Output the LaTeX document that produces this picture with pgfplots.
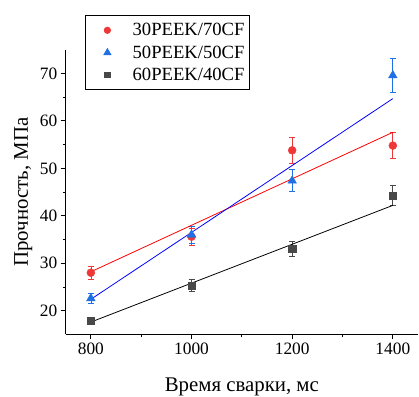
\documentclass[border=0pt]{standalone}
\usepackage{fontspec}
\setmainfont{Liberation Serif}
\usepackage{pgfplots}
\pgfplotsset{compat=1.18}
\definecolor{mred}{RGB}{238,55,55}
\definecolor{mblue}{RGB}{30,112,228}
\definecolor{mgray}{RGB}{72,72,72}
\begin{document}
\begin{tikzpicture}
\begin{axis}[
  scale only axis,
  width=354bp, height=286bp,
  xmin=750, xmax=1450, ymin=15, ymax=75,
  axis lines=left,
  axis line style={-, line width=0.9pt},
  tick style={line width=0.9pt, black},
  tick align=outside,
  major tick length=5bp, minor tick length=3bp,
  xtick={800,1000,1200,1400}, ytick={20,30,40,50,60,70},
  minor x tick num=1, minor y tick num=1,
  /pgf/number format/assume math mode=true,
  /pgf/number format/1000 sep={},
  ticklabel style={font=\fontsize{17.5}{20}\selectfont},
  xlabel={Время сварки, мс},
  ylabel={Прочность, МПа},
  label style={font=\fontsize{21}{24}\selectfont},
  xlabel style={at={(axis description cs:0.5,-0.201)}, anchor=base},
  ylabel style={at={(axis description cs:-0.1073,0.5)}, anchor=base},
  legend style={at={(axis description cs:0.054,1.122)}, anchor=north west,
    draw=black, line width=0.8pt, font=\fontsize{18.8}{21}\selectfont,
    cells={anchor=west}, row sep=4.5pt, inner ysep=6pt},
  legend image code/.code={\path (0bp,0bp) (42bp,0bp); \draw[#1] plot coordinates {(19bp,0bp)};},
  error bars/y dir=both, error bars/y explicit,
]
\addplot[only marks, mark=*, mark size=4bp, color=mred,
  legend image post style={mark size=3.2bp},
  error bars/error bar style={mred, line width=0.7pt},
  error bars/error mark options={rotate=90, mark size=3bp, mred, line width=0.7pt}]
  coordinates {(800,28) +- (0,1.4) (1000,35.6) +- (0,1.8) (1200,53.8) +- (0,2.7) (1400,54.8) +- (0,2.7)};
\addlegendentry{30PEEK/70CF}
\addplot[only marks, mark=triangle*, mark size=5bp, color=mblue,
  legend image post style={mark size=4bp},
  error bars/error bar style={mblue, line width=0.7pt},
  error bars/error mark options={rotate=90, mark size=3bp, mblue, line width=0.7pt}]
  coordinates {(800,22.6) +- (0,1.1) (1000,36) +- (0,1.8) (1200,47.4) +- (0,2.3) (1400,69.6) +- (0,3.5)};
\addlegendentry{50PEEK/50CF}
\addplot[only marks, mark=square*, mark size=3.6bp, color=mgray,
  legend image post style={mark size=2.8bp},
  error bars/error bar style={mgray, line width=0.7pt},
  error bars/error mark options={rotate=90, mark size=3bp, mgray, line width=0.7pt}]
  coordinates {(800,17.9) +- (0,0.7) (1000,25.3) +- (0,1.25) (1200,33) +- (0,1.6) (1400,44.3) +- (0,2.2)};
\addlegendentry{60PEEK/40CF}
\addplot[forget plot, red, line width=0.8pt, no marks] coordinates {(800,28.2) (1400,57.6)};
\addplot[forget plot, blue, line width=0.8pt, no marks] coordinates {(800,22.4) (1400,64.7)};
\addplot[forget plot, black, line width=0.8pt, no marks] coordinates {(800,17.6) (1400,42.2)};
\coordinate (O) at (rel axis cs:0,0);
\coordinate (T) at (rel axis cs:1,1);
\end{axis}
\pgfresetboundingbox
\path[use as bounding box] ([xshift=-66bp,yshift=-62bp]O) rectangle ([xshift=1bp,yshift=50bp]T);
\end{tikzpicture}
\end{document}
